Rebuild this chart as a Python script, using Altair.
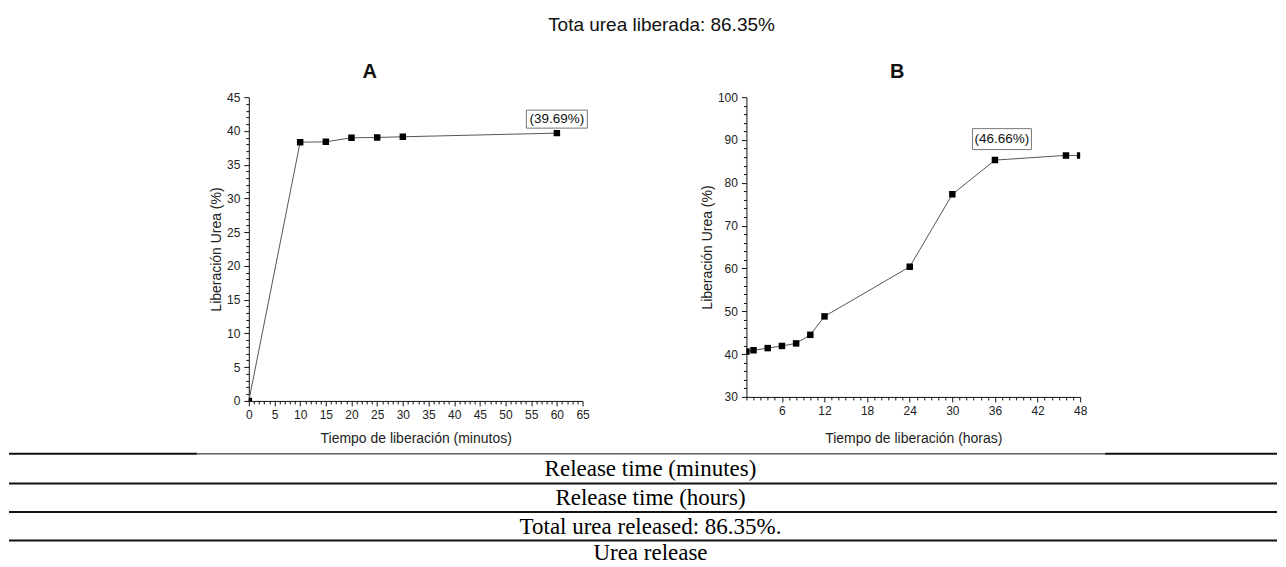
import altair as alt
import pandas as pd

# ---------------- data ----------------
a_time = [0, 10, 15, 20, 25, 30, 60]
a_release = [0.0, 38.33, 38.38, 38.98, 39.03, 39.13, 39.67]

b_time = [1, 2, 4, 6, 8, 10, 12, 24, 30, 36, 46, 48]
b_release = [40.6, 40.9, 41.4, 41.9, 42.5, 44.5, 48.8, 60.4, 77.3, 85.3, 86.4, 86.35]

main_title = "Tota urea liberada: 86.35%"
a_title = "A"
b_title = "B"
y_title = "Liberación Urea (%)"
a_x_title = "Tiempo de liberación (minutos)"
b_x_title = "Tiempo de liberación (horas)"

a_note = {"t": [60], "v": [39.67], "label": ["(39.69%)"]}
b_note = {"t": [36], "v": [85.3], "label": ["(46.66%)"]}

footer_rows = [
    "Release time (minutes)",
    "Release time (hours)",
    "Total urea released: 86.35%.",
    "Urea release",
]

a_x_ticks = list(range(0, 66))
a_y_ticks = list(range(0, 46))
b_x_ticks = list(range(1, 49))
b_y_ticks = list(range(30, 101, 2))

SANS = "Liberation Sans"
SERIF = "Liberation Serif"
TOTAL_W = 1270
TOP = 89          # distance from svg top to the plot tops
TOTAL_H = 551


def axis(values, major, title, label_pad, title_pad):
    return alt.Axis(
        values=values,
        tickCount=500,
        format="d",
        labelExpr=f"datum.value % {major} === 0 ? datum.label : ''",
        tickSize={"condition": {"test": f"datum.value % {major} === 0", "value": 5}, "value": 3},
        tickColor="#111",
        domainColor="#111",
        labelColor="#222",
        labelFont=SANS,
        labelFontSize=12,
        labelPadding=label_pad,
        labelFlush=False,
        labelOverlap=False,
        grid=False,
        title=title,
        titleFont=SANS,
        titleFontSize=14,
        titleFontWeight="normal",
        titleColor="#222",
        titlePadding=title_pad,
    )


def panel(t, v, xdom, ydom, xticks, xmajor, yticks, ymajor, xtitle, ptitle, tdx,
          note, box_w, box_h, ndx, ndy, w, h, xtp):
    df = pd.DataFrame({"t": t, "v": v})
    x = alt.X("t:Q", scale=alt.Scale(domain=xdom, nice=False, zero=False),
              axis=axis(xticks, xmajor, xtitle, 4, xtp))
    y = alt.Y("v:Q", scale=alt.Scale(domain=ydom, nice=False, zero=False),
              axis=axis(yticks, ymajor, y_title, 4, 3))
    base = alt.Chart(df).encode(x=x, y=y)
    line = base.mark_line(color="#555", strokeWidth=1)
    pts = base.mark_square(size=42, color="#000", opacity=1, clip=True)
    ndf = pd.DataFrame(note)
    hh = box_h / box_w
    shape = f"M-1,-{hh:.4f}L1,-{hh:.4f}L1,{hh:.4f}L-1,{hh:.4f}Z"
    nbase = alt.Chart(ndf).encode(x="t:Q", y="v:Q")
    box = nbase.mark_point(shape=shape, size=box_w * box_w, filled=False,
                           stroke="#777", strokeWidth=1, opacity=1,
                           xOffset=ndx, yOffset=ndy)
    txt = nbase.mark_text(font=SANS, fontSize=13.5, color="#111", dx=ndx, dy=ndy,
                          baseline="middle", align="center").encode(text="label:N")
    return alt.layer(line, pts, box, txt).properties(
        width=w, height=h,
        title=alt.TitleParams(ptitle, font=SANS, fontSize=20, fontWeight="bold",
                              color="#111", anchor="middle", frame="group",
                              dx=tdx, offset=9),
    )


panel_a = panel(a_time, a_release, [0, 65], [0, 45], a_x_ticks, 5, a_y_ticks, 5,
                a_x_title, a_title, -46, a_note, 61, 18, 0, -14, 334, 304, 11)
panel_b = panel(b_time, b_release, [1, 48], [30, 100], b_x_ticks, 6, b_y_ticks, 10,
                b_x_title, b_title, -16, b_note, 59, 21, 7, -21, 334, 300, 15)

one = pd.DataFrame({"k": [0]})

# ---- page furniture (title, rules, footer texts) hosted in the left spacer ----
# page coordinates (reference pixels) converted to spacer-local ones
def py(page_y):
    return page_y - 8 - TOP


def px(page_x):
    return page_x - 8


layers = [
    alt.Chart(one).mark_rect(color="white", opacity=1).encode(
        x=alt.value(0), x2=alt.value(TOTAL_W), y=alt.value(-TOP), y2=alt.value(TOTAL_H - TOP)),
    alt.Chart(pd.DataFrame({"s": [main_title]})).mark_text(
        font=SANS, fontSize=19, color="#111", baseline="middle", align="center"
    ).encode(text="s:N", x=alt.value(px(662)), y=alt.value(py(25))),
]

rule_specs = [
    (9, 197, 454, 2), (197, 1106, 454, 1), (1106, 8 + TOTAL_W, 454, 2),
    (9, 8 + TOTAL_W, 483.7, 2), (9, 8 + TOTAL_W, 512.3, 2), (9, 8 + TOTAL_W, 540.7, 2),
]
for x1, x2, yy, sw in rule_specs:
    layers.append(
        alt.Chart(one).mark_rule(color="#111", strokeWidth=sw).encode(
            x=alt.value(px(x1)), x2=alt.value(px(x2)), y=alt.value(py(yy)))
    )
text_y = [469.5, 498.5, 527, 553]
for label, yy in zip(footer_rows, text_y):
    layers.append(
        alt.Chart(pd.DataFrame({"s": [label]})).mark_text(
            font=SERIF, fontSize=23, color="#000", baseline="middle", align="center"
        ).encode(text="s:N", x=alt.value(px(651)), y=alt.value(py(yy)))
    )

left = alt.layer(*layers).properties(width=241, height=304)


def spacer(w):
    return alt.Chart(one).mark_point(opacity=0).properties(width=w, height=304)


chart = alt.hconcat(left, panel_a, spacer(164), panel_b, spacing=0, bounds="flush").properties(
    padding=0, background="white"
).configure_view(stroke=None)

chart.save("out.html", embed_options={"renderer": "svg", "actions": False})
